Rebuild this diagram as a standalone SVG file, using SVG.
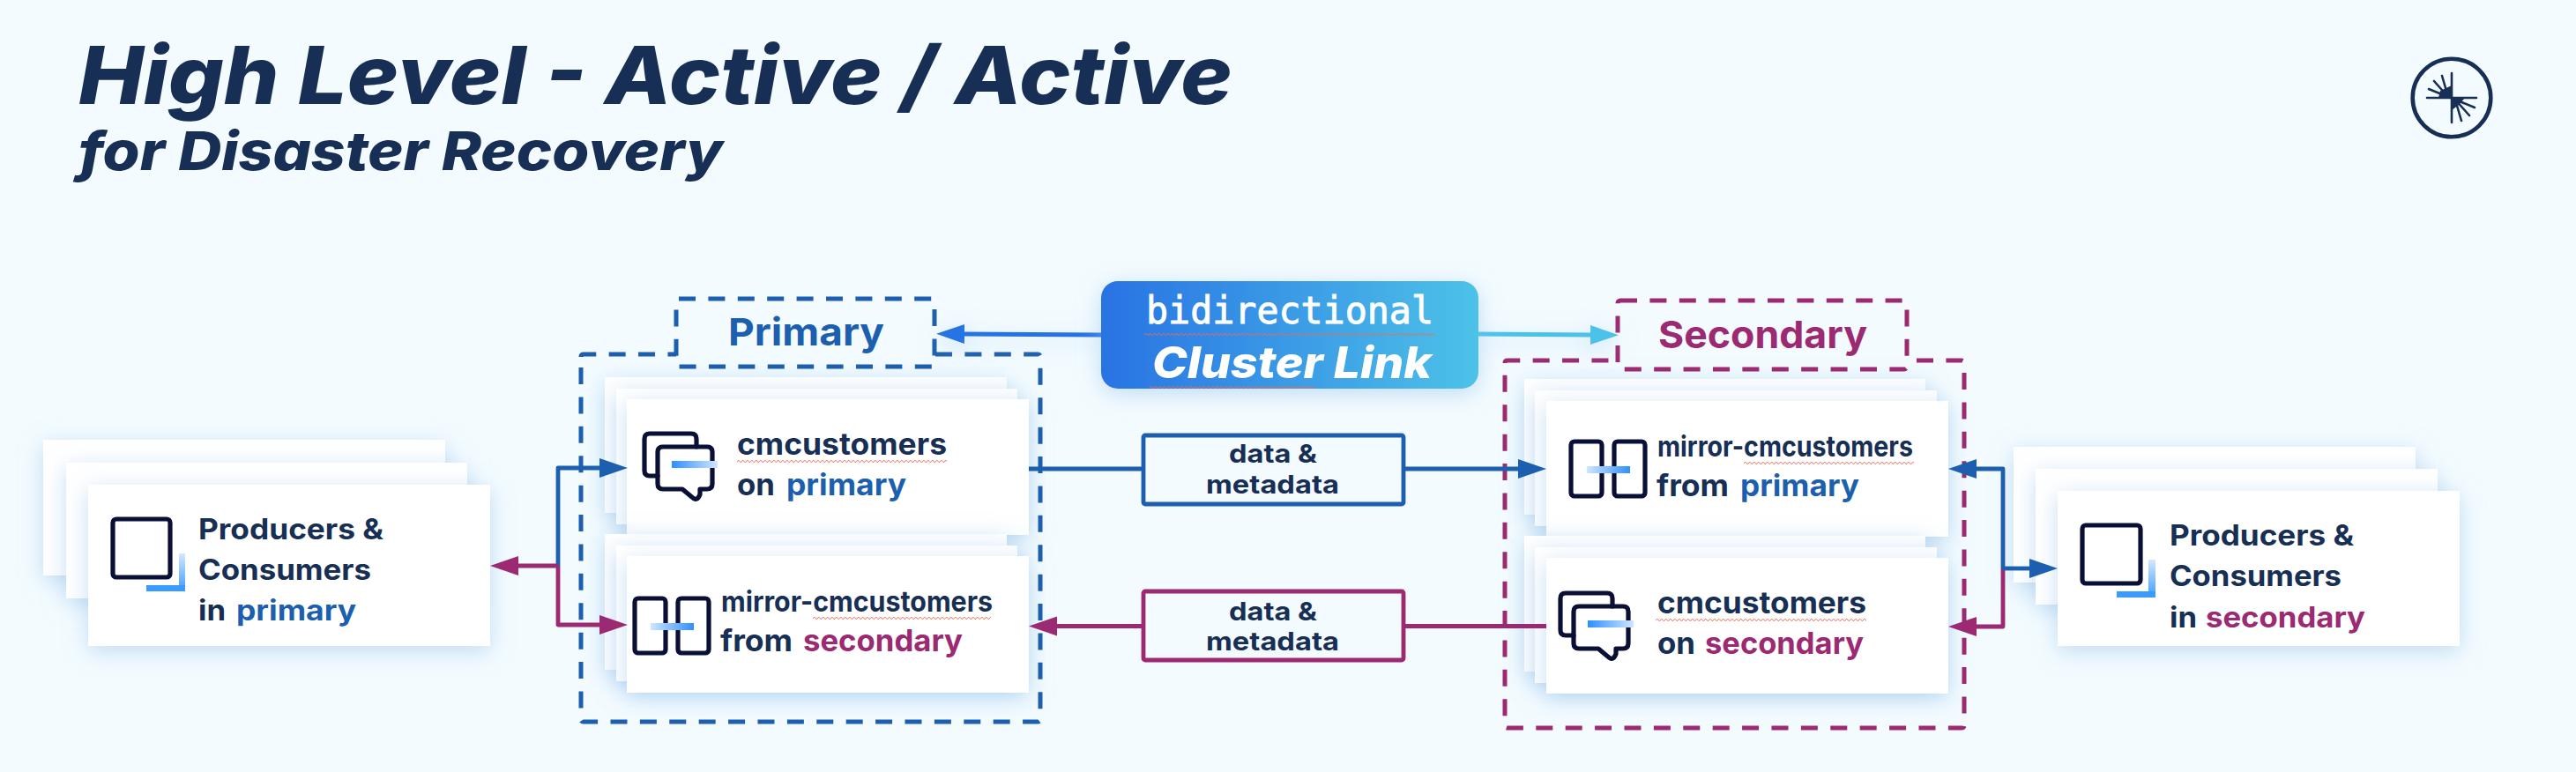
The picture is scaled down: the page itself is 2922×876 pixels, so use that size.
<svg xmlns="http://www.w3.org/2000/svg" width="2922" height="876" viewBox="0 0 2922 876">
<style>
text{font-family:Inter,"Noto Sans","Liberation Sans",sans-serif;fill:#182f55;font-weight:650}
.b{fill:#1c5fae}.p{fill:#9b2a72}
.card{fill:#fff;filter:url(#sh)}
.ti{font-style:italic;font-weight:800}
.t30{font-size:32px}.t32{font-size:34px}.t27{font-size:29px}.lab{font-size:43px;font-weight:700}
.ds{fill:none;stroke-width:5;stroke-dasharray:19 14.4}
.dsb{stroke:#1c5fae}.dsp{stroke:#9b2a72}
.box{fill:none;stroke-width:4.8}
.ln{fill:none;stroke-width:4.8;stroke-linejoin:round}
.ic{fill:none;stroke:#0a0f36;stroke-width:5.2;stroke-linejoin:round;stroke-linecap:round}
.wavy{fill:url(#wv)}
.lg{stroke:#182f55;stroke-width:2.6;fill:none;stroke-linecap:round}
</style>
<defs>
<filter id="sh" filterUnits="userSpaceOnUse" x="0" y="0" width="2922" height="876"><feDropShadow dx="0" dy="6" stdDeviation="13" flood-color="#8fbde8" flood-opacity=".5"/></filter>
<linearGradient id="pill" x1="0" x2="1" y1="0" y2="0"><stop offset="0" stop-color="#2873e3"/><stop offset="1" stop-color="#4dc2e8"/></linearGradient>
<linearGradient id="barR" x1="0" x2="1" y1="0" y2="0"><stop offset="0" stop-color="#2d8fff"/><stop offset="1" stop-color="#cfe6ff"/></linearGradient>
<linearGradient id="barL" x1="0" x2="1" y1="0" y2="0"><stop offset="0" stop-color="#cfe6ff"/><stop offset="1" stop-color="#2d8fff"/></linearGradient>
<linearGradient id="cornV" x1="0" x2="0" y1="0" y2="1"><stop offset="0" stop-color="#d5e9ff"/><stop offset="1" stop-color="#3a9bff"/></linearGradient>
<pattern id="wv" patternUnits="userSpaceOnUse" width="5" height="3"><path d="M0 2.400L1.200 .6 2.500 .6 3.700 2.400 5 2.400" fill="none" stroke="#ec6a55" stroke-width=".9"/></pattern>
<marker id="mB" markerUnits="userSpaceOnUse" markerWidth="33" markerHeight="24" refX="1" refY="12" orient="auto"><path d="M0 1L32 12 0 23z" fill="#1c5fae"/></marker>
<marker id="mP" markerUnits="userSpaceOnUse" markerWidth="33" markerHeight="24" refX="1" refY="12" orient="auto"><path d="M0 1L32 12 0 23z" fill="#9b2a72"/></marker>
<marker id="mL" markerUnits="userSpaceOnUse" markerWidth="33" markerHeight="24" refX="1" refY="12" orient="auto"><path d="M0 1L32 12 0 23z" fill="#2873e3"/></marker>
<marker id="mC" markerUnits="userSpaceOnUse" markerWidth="33" markerHeight="24" refX="1" refY="12" orient="auto"><path d="M0 1L32 12 0 23z" fill="#4dc2e8"/></marker>
<g id="icChat">
<path class="ic" d="M746 540H737Q731 540 731 534V498Q731 492 737 492H784Q790 492 790 498V507"/>
<path class="ic" d="M752 507H802Q808 507 808 513V549Q808 555 802 555H794V561Q791 569 786 565L774 555H752Q746 555 746 549V513Q746 507 752 507Z"/>
<rect x="762" y="523" width="52" height="8" fill="url(#barR)"/>
</g>
<g id="icMirror">
<rect class="ic" x="720" y="679" width="35" height="62" rx="4"/>
<rect class="ic" x="769" y="679" width="35" height="62" rx="4"/>
<rect x="738" y="707" width="49" height="8" fill="url(#barL)"/>
</g>
</defs>
<rect width="2922" height="876" fill="#f3fbff"/>
<g id="title">
<text class="ti" x="89" y="118" font-size="91" textLength="1309" lengthAdjust="spacingAndGlyphs">High Level - Active / Active</text>
<text class="ti" x="89" y="193" font-size="61" textLength="731" lengthAdjust="spacingAndGlyphs">for Disaster Recovery</text>
</g>
<g id="logo">
<circle cx="2781" cy="111" r="44.3" fill="none" stroke="#182f55" stroke-width="4.6"/>
<path class="lg" d="M2753 111H2809M2781 83V139M2777 110L2770 86M2777 110L2761 92M2777 110L2755 101M2785 113L2792 137M2785 113L2801 131M2785 113L2807 122"/>
<path fill="#182f55" d="M2768 103L2781 97V111H2766zM2781 111H2796L2789 119 2781 125z"/>
</g>
<g id="primary-producers">
<rect class="card" x="49" y="499" width="456" height="154"/>
<rect class="card" x="75" y="525" width="455" height="154"/>
<rect class="card" x="100" y="550" width="456" height="183"/>
<rect class="ic" x="128" y="589" width="65" height="66" rx="4"/>
<rect x="203" y="628" width="7" height="43" fill="url(#cornV)"/>
<rect x="166" y="664" width="44" height="7" fill="#3a9bff"/>
<text class="t30" x="225" y="612" textLength="210" lengthAdjust="spacingAndGlyphs">Producers &amp;</text>
<text class="t30" x="225" y="658" textLength="196" lengthAdjust="spacingAndGlyphs">Consumers</text>
<text class="t30" x="225" y="704" textLength="31" lengthAdjust="spacingAndGlyphs">in</text>
<text class="t30 b" x="268" y="704" textLength="136" lengthAdjust="spacingAndGlyphs">primary</text>
</g>
<g id="primary-topic">
<rect class="card" x="686" y="428" width="456" height="154"/>
<rect class="card" x="699" y="441" width="455" height="154"/>
<rect class="card" x="711" y="453" width="456" height="154"/>
<use href="#icChat"/>
<text class="t32" x="836" y="516" textLength="238" lengthAdjust="spacingAndGlyphs">cmcustomers</text>
<rect class="wavy" width="238" height="3" transform="translate(836,522)"/>
<text class="t32" x="836" y="562" textLength="43" lengthAdjust="spacingAndGlyphs">on</text>
<text class="t32 b" x="892" y="562" textLength="136" lengthAdjust="spacingAndGlyphs">primary</text>
</g>
<g id="primary-mirror">
<rect class="card" x="686" y="606" width="456" height="154"/>
<rect class="card" x="699" y="619" width="455" height="154"/>
<rect class="card" x="711" y="631" width="456" height="155"/>
<use href="#icMirror"/>
<text class="t30" x="818" y="694" textLength="308" lengthAdjust="spacingAndGlyphs">mirror-cmcustomers</text>
<rect class="wavy" width="202" height="3" transform="translate(922,700)"/>
<text class="t32" x="817" y="739" textLength="82" lengthAdjust="spacingAndGlyphs">from</text>
<text class="t32 p" x="911" y="739" textLength="181" lengthAdjust="spacingAndGlyphs">secondary</text>
</g>
<g id="primary-cluster">
<path class="ds dsb" d="M1061 402H1177Q1180 402 1180 405V816Q1180 819 1177 819H662Q659 819 659 816V405"/>
<path class="ds dsb" d="M659 405Q659 402 662 402H767"/>
<rect class="ds dsb" x="767" y="339" width="293" height="77" rx="3"/>
<text class="lab b" x="826" y="392" textLength="177" lengthAdjust="spacingAndGlyphs">Primary</text>
</g>
<g id="secondary-mirror">
<rect class="card" x="1729" y="430" width="455" height="154"/>
<rect class="card" x="1741" y="443" width="456" height="154"/>
<rect class="card" x="1754" y="455" width="456" height="154"/>
<use href="#icMirror" transform="translate(1062,-178)"/>
<text class="t30" x="1880" y="518" textLength="290" lengthAdjust="spacingAndGlyphs">mirror-cmcustomers</text>
<rect class="wavy" width="193" height="3" transform="translate(1978,524)"/>
<text class="t32" x="1879" y="563" textLength="82" lengthAdjust="spacingAndGlyphs">from</text>
<text class="t32 b" x="1974" y="563" textLength="135" lengthAdjust="spacingAndGlyphs">primary</text>
</g>
<g id="secondary-topic">
<rect class="card" x="1729" y="608" width="455" height="154"/>
<rect class="card" x="1741" y="621" width="456" height="154"/>
<rect class="card" x="1754" y="633" width="456" height="154"/>
<use href="#icChat" transform="translate(1039,181)"/>
<text class="t32" x="1880" y="696" textLength="237" lengthAdjust="spacingAndGlyphs">cmcustomers</text>
<rect class="wavy" width="239" height="3" transform="translate(1878,702)"/>
<text class="t32" x="1880" y="742" textLength="43" lengthAdjust="spacingAndGlyphs">on</text>
<text class="t32 p" x="1934" y="742" textLength="180" lengthAdjust="spacingAndGlyphs">secondary</text>
</g>
<g id="secondary-cluster">
<path class="ds dsp" d="M2174 409H2225Q2228 409 2228 412V823Q2228 826 2225 826H1710Q1707 826 1707 823V412"/>
<path class="ds dsp" d="M1707 412Q1707 409 1710 409H1835"/>
<rect class="ds dsp" x="1835" y="341" width="328" height="78" rx="3"/>
<text class="lab p" x="1881" y="395" textLength="237" lengthAdjust="spacingAndGlyphs">Secondary</text>
</g>
<g id="secondary-producers">
<rect class="card" x="2284" y="507" width="456" height="154"/>
<rect class="card" x="2309" y="532" width="456" height="154"/>
<rect class="card" x="2334" y="557" width="456" height="176"/>
<rect class="ic" x="2362" y="596" width="66" height="66" rx="4"/>
<rect x="2437" y="635" width="8" height="43" fill="url(#cornV)"/>
<rect x="2401" y="671" width="44" height="7" fill="#3a9bff"/>
<text class="t30" x="2461" y="619" textLength="209" lengthAdjust="spacingAndGlyphs">Producers &amp;</text>
<text class="t30" x="2461" y="665" textLength="195" lengthAdjust="spacingAndGlyphs">Consumers</text>
<text class="t30" x="2461" y="712" textLength="31" lengthAdjust="spacingAndGlyphs">in</text>
<text class="t30 p" x="2502" y="712" textLength="181" lengthAdjust="spacingAndGlyphs">secondary</text>
</g>
<g id="connectors">
<path class="ln" stroke="#2873e3" filter="url(#sh)" d="M1249 380L1093 379" marker-end="url(#mL)"/>
<path class="ln" stroke="#4dc2e8" filter="url(#sh)" d="M1677 379L1805 380" marker-end="url(#mC)"/>
<path class="ln" stroke="#1c5fae" d="M633 642V531H681" marker-end="url(#mB)"/>
<path class="ln" stroke="#9b2a72" d="M633 642V709H681" marker-end="url(#mP)"/>
<path class="ln" stroke="#9b2a72" d="M633 642H587" marker-end="url(#mP)"/>
<path class="ln" stroke="#1c5fae" d="M1167 532H1297M1592 532H1723" marker-end="url(#mB)"/>
<path class="ln" stroke="#9b2a72" d="M1754 710.500H1592M1297 710.500H1198" marker-end="url(#mP)"/>
<path class="ln" stroke="#9b2a72" d="M2272 645V711H2241" marker-end="url(#mP)"/>
<path class="ln" stroke="#1c5fae" d="M2272 645V532H2241" marker-end="url(#mB)"/>
<path class="ln" stroke="#1c5fae" d="M2272 645H2303" marker-end="url(#mB)"/>
</g>
<g id="cluster-link">
<rect x="1249" y="319" width="428" height="122" rx="19" fill="url(#pill)" filter="url(#sh)"/>
<text x="1300" y="367" font-size="42" textLength="326" lengthAdjust="spacingAndGlyphs" style="font-family:'DejaVu Sans Mono',monospace;font-weight:400;fill:#fff;stroke:#fff;stroke-width:.9">bidirectional</text>
<rect class="wavy" width="330" height="3" transform="translate(1298,378)"/>
<text x="1307" y="429" font-size="50" textLength="317" lengthAdjust="spacingAndGlyphs" style="font-style:italic;font-weight:800;fill:#fff">Cluster Link</text>
<rect class="wavy" width="188" height="3" transform="translate(1304,438)"/>
</g>
<g id="data-primary">
<rect class="box" x="1297" y="494" width="295" height="78" rx="2" stroke="#1c5fae"/>
<text class="t27" x="1394" y="525" textLength="100" lengthAdjust="spacingAndGlyphs">data &amp;</text>
<text class="t27" x="1368" y="560" textLength="151" lengthAdjust="spacingAndGlyphs">metadata</text>
</g>
<g id="data-secondary">
<rect class="box" x="1297" y="671" width="295" height="78" rx="2" stroke="#9b2a72"/>
<text class="t27" x="1394" y="704" textLength="100" lengthAdjust="spacingAndGlyphs">data &amp;</text>
<text class="t27" x="1368" y="738" textLength="151" lengthAdjust="spacingAndGlyphs">metadata</text>
</g>
</svg>
